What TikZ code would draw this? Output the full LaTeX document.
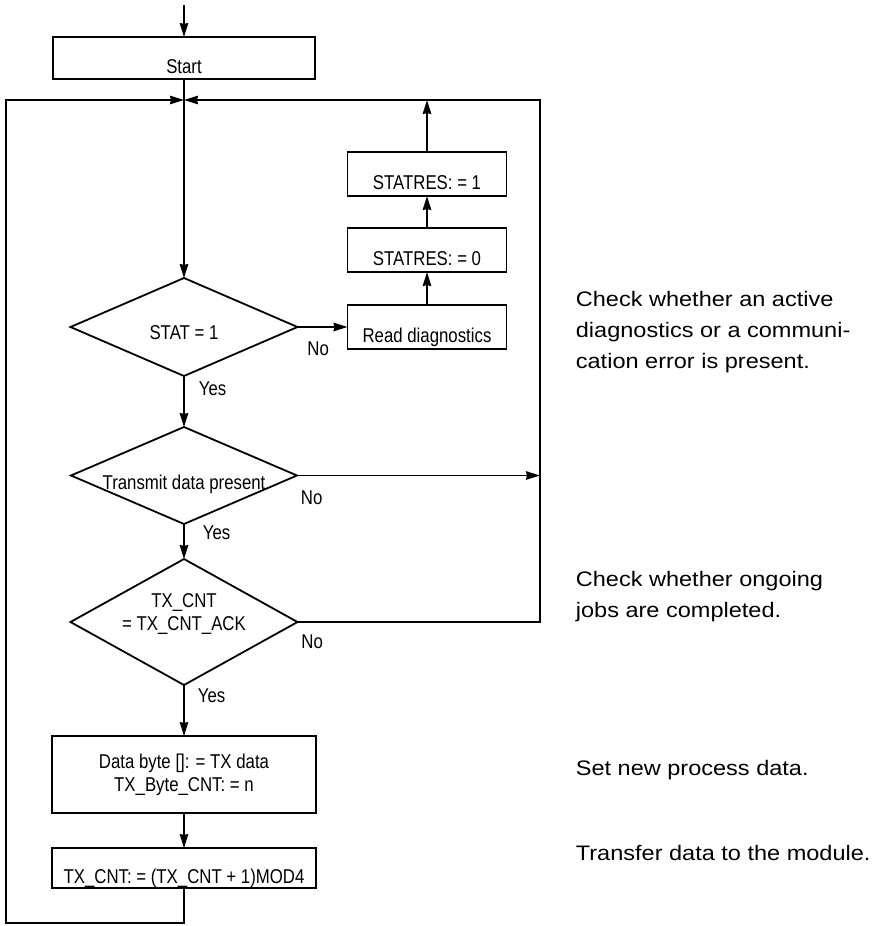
\documentclass[tikz,border=0pt]{standalone}
\usepackage{fontspec}
\newfontfamily\chartfont[FakeStretch=0.84]{Liberation Sans}
\newfontfamily\notefont[FakeStretch=1.12]{Liberation Sans}
\usetikzlibrary{arrows.meta,positioning,shapes.geometric}

\begin{document}
\begin{tikzpicture}[
  node distance=30pt and 50pt,
  line width=1.8pt,
  chart/.style={font=\chartfont\fontsize{20pt}{23pt}\selectfont},
  box/.style={rectangle, draw, chart, align=center, inner sep=0pt, outer sep=0pt, minimum width=264pt, minimum height=42pt},
  lowtext/.style={text height=30pt, text depth=0pt},
  decision/.style={diamond, draw, inner sep=0pt, outer sep=0pt, minimum width=227pt, minimum height=98pt},
  dtext/.style={chart, align=center, inner sep=0pt},
  answer/.style={chart, inner sep=0pt, anchor=north west},
  note/.style={font=\notefont\fontsize{21pt}{31pt}\selectfont, align=left, anchor=base west, inner sep=0pt},
  arrow/.style={-{Stealth[length=14pt, width=8.5pt, inset=1pt]}}
]
\useasboundingbox (0,0) rectangle (885pt,-926pt);

% main column
\node[box, lowtext, minimum width=262pt] (start) at (184pt,-58pt) {Start};
\coordinate[above=32pt of start] (entry);
\coordinate[below=21pt of start] (merge);
\coordinate[left=178pt of merge] (lcorner);
\coordinate[right=356pt of merge] (rjoin);

\node[decision, below=178pt of merge, label={[dtext, name=stattext, yshift=-6pt]center:STAT = 1}] (stat) {};
\node[decision, minimum width=226pt, minimum height=97pt, below=51pt of stat, label={[dtext, name=transtext, yshift=-9pt]center:Transmit data present}] (transmit) {};
\node[decision, minimum height=126pt, below=35pt of transmit, label={[dtext, name=cnttext, yshift=8pt]center:TX\_CNT\\= TX\_CNT\_ACK}] (cntcheck) {};
\node[box, minimum height=77pt, below=51pt of cntcheck] (setdata) {Data byte []: = TX data\\TX\_Byte\_CNT: = n};
\node[box, lowtext, minimum height=40pt, below=35pt of setdata] (inccnt) {TX\_CNT: = (TX\_CNT + 1)MOD4};

% diagnostics branch
\node[box, lowtext, minimum width=159pt, minimum height=44pt, right=50pt of stat] (readdiag) {Read diagnostics};
\node[box, lowtext, minimum width=159pt, minimum height=44pt, above=33pt of readdiag] (statres0) {STATRES: = 0};
\node[box, lowtext, minimum width=159pt, minimum height=44pt, above=32pt of statres0] (statres1) {STATRES: = 1};

% comments (anchored at the last line)
\node[note] (diagnote) at (575pt,-368pt) {Check whether an active\\diagnostics or a communi-\\cation error is present.};
\node[note] (jobnote) at (575pt,-617pt) {Check whether ongoing\\jobs are completed.};
\node[note] (datanote) at (575pt,-775pt) {Set new process data.};
\node[note] (sendnote) at (575pt,-860pt) {Transfer data to the module.};

\draw[arrow] (entry) -- (start);
\draw[arrow] (start) -- (stat);
\draw[arrow] (stat.east) -- node[answer, pos=0, xshift=9pt, yshift=-14pt] (no1) {No} (readdiag.west);
\draw[arrow] (readdiag) -- (statres0);
\draw[arrow] (statres0) -- (statres1);
\draw[arrow] (statres1) -- (statres1 |- merge);
\draw[arrow] (stat.south) -- node[answer, pos=0, xshift=14pt, yshift=-5pt] (yes1) {Yes} (transmit.north);
\draw[arrow] (transmit.east) -- node[answer, pos=0, xshift=3pt, yshift=-14pt] (no2) {No} (transmit.east -| rjoin);
\draw[arrow] (transmit.south) -- node[answer, pos=0, xshift=18pt, yshift=-1pt] (yes2) {Yes} (cntcheck.north);
\draw[arrow] (cntcheck.east) -- node[answer, pos=0, xshift=3pt, yshift=-12pt] (no3) {No} (cntcheck.east -| rjoin) -- (rjoin) -- (merge);
\draw[arrow] (cntcheck.south) -- node[answer, pos=0, xshift=13pt, yshift=-3pt] (yes3) {Yes} (setdata);
\draw[arrow] (setdata) -- (inccnt);
\draw[arrow] (inccnt.south) -- ++(0,-35pt) -| (lcorner) -- (merge);

\end{tikzpicture}
\end{document}
